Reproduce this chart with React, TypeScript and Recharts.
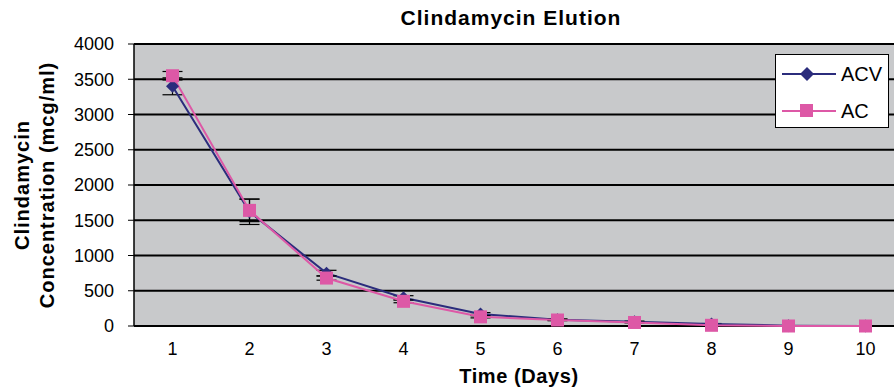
import React from 'react';
import {
  LineChart,
  Line,
  XAxis,
  YAxis,
  CartesianGrid,
  ErrorBar,
  Label,
} from 'recharts';

const DAYS = [1, 2, 3, 4, 5, 6, 7, 8, 9, 10];
const ACV = [3400, 1620, 750, 400, 170, 90, 60, 30, 5, 0];
const ACV_ERR = [120, 180, 40, 30, 20, 10, 10, 5, 0, 0];
const AC = [3550, 1640, 680, 350, 130, 85, 50, 10, 0, 0];
const AC_ERR = [60, 160, 30, 20, 15, 10, 5, 0, 0, 0];
const Y_TICKS = [0, 500, 1000, 1500, 2000, 2500, 3000, 3500, 4000];
const BOUNDARY_TICKS = [0.5, 1.5, 2.5, 3.5, 4.5, 5.5, 6.5, 7.5, 8.5, 9.5, 10.5];

const FONT = '"Liberation Sans", Arial, sans-serif';
const NAVY = '#2b2c7c';
const PINK = '#dd58a6';

const data = DAYS.map((day, i) => ({
  day,
  acv: ACV[i],
  acvErr: ACV_ERR[i],
  ac: AC[i],
  acErr: AC_ERR[i],
}));

const Diamond = (props: any) => {
  const { cx, cy } = props;
  if (cx == null || cy == null) return null;
  const r = 6.5;
  return (
    <path
      d={`M${cx},${cy - r} L${cx + r},${cy} L${cx},${cy + r} L${cx - r},${cy} Z`}
      fill={NAVY}
    />
  );
};

const Square = (props: any) => {
  const { cx, cy } = props;
  if (cx == null || cy == null) return null;
  const s = 13;
  return <rect x={cx - s / 2} y={cy - s / 2} width={s} height={s} fill={PINK} />;
};

// legend box sits over the top-right of the plot, like the excel original
const LegendBox = () => (
  <div
    style={{
      position: 'absolute',
      left: 775,
      top: 54,
      width: 114,
      height: 74,
      background: '#fff',
      border: '1px solid #000',
      boxSizing: 'border-box',
    }}
  >
    <svg width={112} height={72} style={{ display: 'block' }}>
      <line x1={6} y1={19} x2={60} y2={19} stroke={NAVY} strokeWidth={2} />
      <path d="M31,12 L38,19 L31,26 L24,19 Z" fill={NAVY} />
      <text x={65} y={26} fontSize={20} fontFamily={FONT} fill="#000">ACV</text>
      <line x1={6} y1={56} x2={60} y2={56} stroke={PINK} strokeWidth={2} />
      <rect x={24} y={49} width={13} height={13} fill={PINK} />
      <text x={65} y={63} fontSize={20} fontFamily={FONT} fill="#000">AC</text>
    </svg>
  </div>
);

const renderYLabel = () => (
  <text
    transform="rotate(-90)"
    textAnchor="middle"
    fontFamily={FONT}
    fontSize={20}
    fontWeight="bold"
    letterSpacing={1}
    fill="#000"
  >
    <tspan x={-185} y={29}>Clindamycin</tspan>
    <tspan x={-185} y={54}>Concentration (mcg/ml)</tspan>
  </text>
);

export default function App() {
  return (
    <div
      style={{
        position: 'absolute',
        left: 0,
        top: 0,
        width: 894,
        height: 389,
        overflow: 'hidden',
        background: '#fff',
      }}
    >
      <div
        style={{
          position: 'absolute',
          top: 6,
          left: 0,
          width: 1022,
          textAlign: 'center',
          fontFamily: FONT,
          fontSize: 21,
          letterSpacing: 1,
          fontWeight: 'bold',
          color: '#000',
        }}
      >
        Clindamycin Elution
      </div>
      <LineChart
        width={906}
        height={389}
        data={data}
        margin={{ top: 44, right: 2, bottom: 0, left: 0 }}
      >
        <CartesianGrid
          vertical={false}
          stroke="#000"
          strokeWidth={1.8}
          fill="#c8c9cb"
          fillOpacity={1}
        />
        <XAxis
          xAxisId="marks"
          dataKey="day"
          type="number"
          domain={[0.5, 10.5]}
          ticks={BOUNDARY_TICKS}
          tick={false}
          height={0}
          tickSize={6}
          stroke="#333"
          axisLine={{ stroke: '#333', strokeWidth: 1.5 }}
        />
        <XAxis
          xAxisId="days"
          dataKey="day"
          type="number"
          domain={[0.5, 10.5]}
          ticks={DAYS}
          tickLine={false}
          axisLine={false}
          tickMargin={10}
          height={63}
          tick={{ fontSize: 18, fill: '#000', fontFamily: FONT }}
        >
          <Label
            value="Time (Days)"
            position="insideBottom"
            offset={6}
            style={{
              fontSize: 20,
              fontWeight: 'bold',
              letterSpacing: 0.6,
              fill: '#000',
              fontFamily: FONT,
            }}
          />
        </XAxis>
        <YAxis
          domain={[0, 4000]}
          ticks={Y_TICKS}
          width={134}
          tickSize={6}
          tickMargin={14}
          stroke="#000"
          axisLine={{ stroke: '#000', strokeWidth: 1.5 }}
          tick={{ fontSize: 18, fill: '#000', fontFamily: FONT }}
        >
          <Label content={renderYLabel} />
        </YAxis>
        <Line
          xAxisId="days"
          dataKey="acv"
          name="ACV"
          stroke={NAVY}
          strokeWidth={2}
          dot={<Diamond />}
          isAnimationActive={false}
        >
          <ErrorBar dataKey="acvErr" direction="y" width={10} stroke="#000" strokeWidth={1.2} />
        </Line>
        <Line
          xAxisId="days"
          dataKey="ac"
          name="AC"
          stroke={PINK}
          strokeWidth={2}
          dot={<Square />}
          isAnimationActive={false}
        >
          <ErrorBar dataKey="acErr" direction="y" width={10} stroke="#000" strokeWidth={1.2} />
        </Line>
      </LineChart>
      <LegendBox />
    </div>
  );
}
